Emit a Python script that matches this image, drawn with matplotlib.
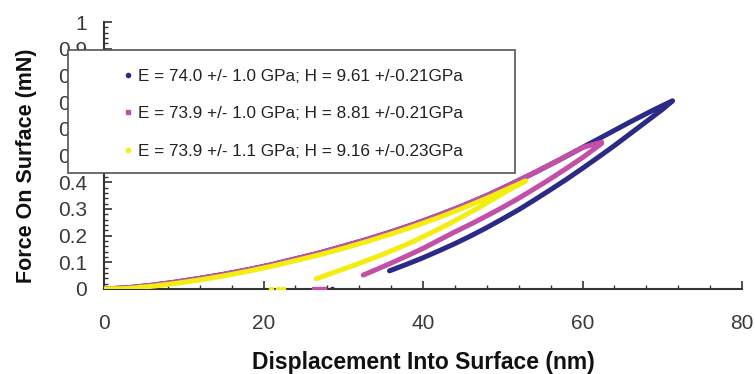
import matplotlib
matplotlib.use("Agg")
import matplotlib.pyplot as plt
from matplotlib.lines import Line2D
from matplotlib.patches import Rectangle
from matplotlib.ticker import MultipleLocator, FuncFormatter

# ---- data ----
load_x = [0, 3, 6, 9, 12, 15, 18, 21, 24, 27, 30, 33, 36, 39, 42, 45, 48, 51, 54, 57, 60, 63, 66, 69, 71.3]
load_y = [0, 0.005, 0.014, 0.026, 0.040, 0.055, 0.072, 0.091, 0.113, 0.135, 0.160, 0.186, 0.214, 0.244,
          0.277, 0.312, 0.350, 0.392, 0.436, 0.482, 0.530, 0.578, 0.626, 0.672, 0.705]

blue_unload_x = [71.3, 70, 68, 66, 64, 62, 60, 58, 56, 54, 52, 50, 48, 46, 44, 42, 40, 38, 36.5, 35.8]
blue_unload_y = [0.705, 0.672, 0.627, 0.582, 0.537, 0.494, 0.452, 0.411, 0.372, 0.334, 0.297, 0.263,
                 0.230, 0.199, 0.170, 0.143, 0.117, 0.093, 0.076, 0.068]
blue_tail_x = [28.6]
blue_tail_y = [0.0]

mag_load_end = (62.4, 0.550)
mag_unload_x = [62.4, 60, 58, 56, 54, 52, 50, 48, 46, 44, 42, 40, 38, 36, 34, 32.5]
mag_unload_y = [0.545, 0.492, 0.452, 0.413, 0.376, 0.340, 0.306, 0.274, 0.243, 0.214, 0.183, 0.152,
                0.124, 0.097, 0.071, 0.052]
mag_tail_x = [26.3, 27.0, 27.6]
mag_tail_y = [0.0, 0.0, 0.0]

yel_load_x = [0, 1, 2, 3, 6, 9, 12, 15, 18, 21, 24, 27, 30, 33, 36, 39, 42, 45, 48, 51, 52.9]
yel_load_y = [0, 0.001, 0.001, 0.002, 0.010, 0.021, 0.034, 0.049, 0.066, 0.085, 0.106, 0.128, 0.152,
              0.178, 0.206, 0.236, 0.268, 0.303, 0.340, 0.380, 0.405]
yel_unload_x = [52.9, 51, 49, 47, 45, 43, 41, 39, 37, 35, 33, 31, 29, 27.5, 26.6]
yel_unload_y = [0.405, 0.375, 0.340, 0.305, 0.272, 0.240, 0.210, 0.181, 0.155, 0.130, 0.107, 0.085,
                0.064, 0.048, 0.038]
yel_tail_x = [21.0, 21.8, 22.4]
yel_tail_y = [0.0, 0.0, 0.0]

labels = ["E = 74.0 +/- 1.0 GPa; H = 9.61 +/-0.21GPa",
          "E = 73.9 +/- 1.0 GPa; H = 8.81 +/-0.21GPa",
          "E = 73.9 +/- 1.1 GPa; H = 9.16 +/-0.23GPa"]
x_ticks = [0, 20, 40, 60, 80]
y_ticks = [0, 0.1, 0.2, 0.3, 0.4, 0.5, 0.6, 0.7, 0.8, 0.9, 1.0]

BLUE = "#2B2B86"
MAG = "#C24FA8"
YEL = "#F2EE10"

plt.rcParams['font.family'] = ['Liberation Sans', 'DejaVu Sans']

fig = plt.figure(figsize=(7.55, 3.74), dpi=100)
W, H = 755, 374
ax = fig.add_axes([104 / W, 1 - 289 / H, (742 - 104) / W, (289 - 22) / H])

lw = 3.6
# blue
ax.plot(load_x + blue_unload_x, load_y + blue_unload_y, color=BLUE, lw=lw, solid_capstyle='round',
        solid_joinstyle='round', zorder=2)
ax.plot(blue_tail_x, blue_tail_y, 'o', ms=3, color=BLUE, zorder=2)
# magenta
mx = [x for x in load_x if x < mag_load_end[0]] + [mag_load_end[0]]
my = [y for x, y in zip(load_x, load_y) if x < mag_load_end[0]] + [mag_load_end[1]]
ax.plot(mx + mag_unload_x, my + mag_unload_y, color=MAG, lw=lw, solid_capstyle='round',
        solid_joinstyle='round', zorder=3)
ax.plot(mag_tail_x, mag_tail_y, 's', ms=3, color=MAG, zorder=3)
# yellow
ax.plot(yel_load_x + yel_unload_x, yel_load_y + yel_unload_y, color=YEL, lw=lw, solid_capstyle='round',
        solid_joinstyle='round', zorder=4)
ax.plot(yel_tail_x, yel_tail_y, 'o', ms=3, color=YEL, zorder=4)

ax.set_xlim(0, 80)
ax.set_ylim(0, 1)
ax.set_xticks(x_ticks)
ax.set_yticks(y_ticks)
ax.xaxis.set_minor_locator(MultipleLocator(4))
ax.yaxis.set_minor_locator(MultipleLocator(0.02))
ax.yaxis.set_major_formatter(FuncFormatter(lambda v, p: "%g" % round(v, 2)))
for s in ['top', 'right']:
    ax.spines[s].set_visible(False)
for s in ['left', 'bottom']:
    ax.spines[s].set_color('#333333')
    ax.spines[s].set_linewidth(1.5)
ax.tick_params(which='major', direction='in', length=6, width=1.2, color='#333333',
               labelsize=15, labelcolor='#3a3a3a')
ax.tick_params(which='minor', direction='in', length=3, width=1.0, color='#333333')
ax.tick_params(axis='x', which='major', pad=18)
ax.tick_params(axis='y', which='major', pad=12)

ax.set_xlabel("Displacement Into Surface (nm)", fontsize=16.5, fontweight='bold', color='#111111')
ax.xaxis.set_label_coords(0.5, -0.232)
ax.set_ylabel("Force On Surface (mN)", fontsize=15.5, fontweight='bold', color='#111111')
ax.yaxis.set_label_coords(-0.105, 0.46)

# legend box
rect = Rectangle((68 / W, 1 - 173 / H), (515 - 68) / W, (173 - 50) / H, transform=fig.transFigure,
                 facecolor='white', edgecolor='#555555', lw=1.2, zorder=3)
fig.patches.append(rect)
handles = [Line2D([], [], ls='none', marker='o', ms=3, color=BLUE),
           Line2D([], [], ls='none', marker='s', ms=3, color=MAG),
           Line2D([], [], ls='none', marker='o', ms=3, color=YEL)]
leg = fig.legend(handles, labels, loc='upper left', bbox_to_anchor=(114 / W, 1 - 60 / H),
                 frameon=False, fontsize=12.3, handlelength=0.6, handletextpad=0.3,
                 labelspacing=1.33, labelcolor='#222222', borderpad=0)
leg.set_zorder(5)

fig.savefig("out.png", dpi=100)
